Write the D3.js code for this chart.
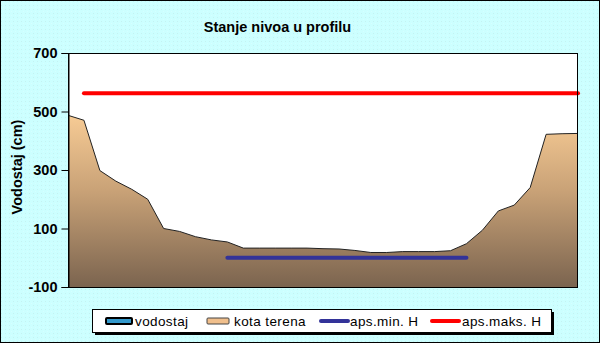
<!DOCTYPE html>
<html><head><meta charset="utf-8">
<script src="https://cdn.jsdelivr.net/npm/d3@7"></script>
<style>body{margin:0;background:#fff}svg{display:block}</style>
</head><body>
<svg id="c" width="600" height="343"></svg>
<script>
// ---- data ----
const stations = d3.range(33); // profile points 0..32
const kotaTerena = [487,470,298,262,234,200,100,90,72,61,54,33,33,33,33,33,31,30,25,18,18,21,21,21,24,48,94,160,180,240,422,424,425];
const vodostaj = stations.map(() => null); // no readings shown
const apsMinH = stations.map(i => (i >= 10 && i <= 25) ? 0 : null);
const apsMaksH = stations.map(i => (i >= 1) ? 562 : null);
const yTicks = [-100, 100, 300, 500, 700];
const title = "Stanje nivoa u profilu";
const yLabel = "Vodostaj (cm)";
const legendItems = ["vodostaj", "kota terena", "aps.min. H", "aps.maks. H"];

// ---- drawing ----
const svg = d3.select("#c");
const W = 600, H = 343;
const L = 68, R = 578, T = 53, B = 287;
const font = "Liberation Sans, Arial, sans-serif";

const defs = svg.append("defs");
const pat = defs.append("pattern").attr("id","dots").attr("width",4).attr("height",4).attr("patternUnits","userSpaceOnUse");
pat.append("rect").attr("width",4).attr("height",4).attr("fill","#ccffff");
pat.append("rect").attr("x",1).attr("y",1).attr("width",1).attr("height",1).attr("fill","#c4f2f2");
pat.append("rect").attr("x",3).attr("y",3).attr("width",1).attr("height",1).attr("fill","#d6ffff");

svg.append("rect").attr("x",0.5).attr("y",0.5).attr("width",W-1).attr("height",H-1)
  .attr("fill","url(#dots)").attr("stroke","#000");

const x = d3.scaleLinear().domain([0, 32]).range([L, R]);
const y = d3.scaleLinear().domain([-100, 700]).range([B, T]);

svg.append("rect").attr("x",L).attr("y",T).attr("width",R-L).attr("height",B-T).attr("fill","#fff");

const grad = defs.append("linearGradient").attr("id","terr").attr("gradientUnits","userSpaceOnUse")
  .attr("x1",0).attr("x2",0).attr("y1",y(500)).attr("y2",y(-100));
grad.append("stop").attr("offset",0).attr("stop-color","#f9cd96");
grad.append("stop").attr("offset",0.45).attr("stop-color","#c9a277");
grad.append("stop").attr("offset",1).attr("stop-color","#7b644f");

const area = d3.area().x((d,i)=>x(i)).y0(y(-100)).y1(d=>y(d));
svg.append("path").datum(kotaTerena).attr("d",area).attr("fill","url(#terr)");
const line = d3.line().defined(d=>d!==null).x((d,i)=>x(i)).y(d=>y(d));
svg.append("path").datum(kotaTerena).attr("d",line).attr("fill","none").attr("stroke","#222").attr("stroke-width",1);

svg.append("path").datum(vodostaj).attr("d",line).attr("fill","none").attr("stroke","#3399cc").attr("stroke-width",4);
svg.append("path").datum(apsMinH).attr("d",line).attr("fill","none").attr("stroke","#333399").attr("stroke-width",4).attr("stroke-linecap","round");
svg.append("path").datum(apsMaksH).attr("d",line).attr("fill","none").attr("stroke","#ff0000").attr("stroke-width",4).attr("stroke-linecap","round");

svg.append("rect").attr("x",L+0.5).attr("y",T+0.5).attr("width",R-L-1).attr("height",B-T).attr("fill","none").attr("stroke","#000");

const ax = svg.append("g").attr("transform",`translate(${L+0.5},0)`)
  .call(d3.axisLeft(y).tickValues(yTicks).tickSize(7).tickPadding(4).tickFormat(d => String(d)));
ax.select(".domain").attr("stroke","#000");
ax.selectAll(".tick line").attr("stroke","#000");
ax.selectAll(".tick text").attr("font-family",font).attr("font-size","14.5px").attr("font-weight","bold").attr("fill","#000");

svg.append("text").attr("x",277.5).attr("y",32).attr("text-anchor","middle")
  .attr("font-family",font).attr("font-size","14.5px").attr("font-weight","bold").text(title);
svg.append("text").attr("transform","translate(22,167) rotate(-90)").attr("text-anchor","middle")
  .attr("font-family",font).attr("font-size","14.5px").attr("font-weight","bold").text(yLabel);

// legend
const lg = svg.append("g");
lg.append("rect").attr("x",95).attr("y",312).attr("width",459).attr("height",23).attr("fill","#000");
lg.append("rect").attr("x",92.5).attr("y",309.5).attr("width",459).attr("height",23).attr("fill","#fff").attr("stroke","#000");
const ly = 321;
const items = [
  {name:legendItems[0], sx:106, tx:135, type:"box", fill:"#3399cc", stroke:"#000", sw:2, w:26},
  {name:legendItems[1], sx:207, tx:234, type:"box", fill:"#f0bf8c", stroke:"#444", sw:1, w:22},
  {name:legendItems[2], sx:321, tx:350, type:"line", color:"#333399"},
  {name:legendItems[3], sx:432, tx:462, type:"line", color:"#ff0000"}
];
items.forEach(it=>{
  if(it.type==="box"){
    lg.append("rect").attr("x",it.sx).attr("y",ly-3).attr("width",it.w).attr("height",6)
      .attr("fill",it.fill).attr("stroke",it.stroke).attr("stroke-width",it.sw).attr("rx",1);
  } else {
    lg.append("line").attr("x1",it.sx).attr("x2",it.sx+27).attr("y1",ly).attr("y2",ly)
      .attr("stroke",it.color).attr("stroke-width",4).attr("stroke-linecap","round");
  }
  lg.append("text").attr("x",it.tx).attr("y",ly+5).attr("font-family",font).attr("font-size","13.5px")
    .attr("letter-spacing","0.4px").text(it.name);
});
</script>
</body></html>
